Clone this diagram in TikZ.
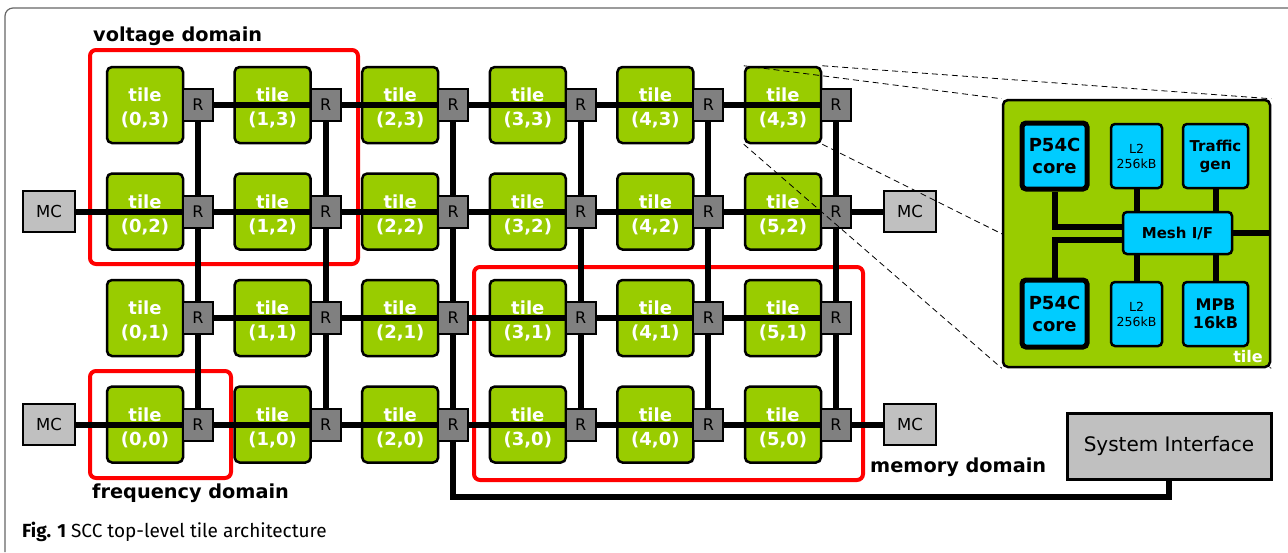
\documentclass[tikz,border=0pt]{standalone}
\usepackage{fontspec}
\setmainfont{DejaVu Sans}
\newfontfamily\capfont{Fira Sans}
\usepackage{tikz}
\usepackage{xcolor}
\usetikzlibrary{positioning}

\definecolor{tilegreen}{RGB}{153,204,0}
\definecolor{rgray}{RGB}{128,128,128}
\definecolor{mcgray}{RGB}{192,192,192}
\definecolor{unitblue}{RGB}{0,204,255}

\pgfdeclarelayer{back}
\pgfdeclarelayer{top}
\pgfsetlayers{back,main,top}

\begin{document}
\begin{tikzpicture}[x=1pt, y=-1pt,
    tile/.style={rectangle, draw, line width=2.5pt, rounded corners=5pt, fill=tilegreen, minimum width=76pt, minimum height=76pt, inner sep=0pt, align=center, text=white, font=\fontsize{18}{24}\selectfont\bfseries},
    router/.style={rectangle, draw, line width=2pt, fill=rgray, minimum width=30pt, minimum height=32pt, inner sep=0pt, font=\fontsize{16}{16}\selectfont},
    mc/.style={rectangle, draw, line width=2.5pt, fill=mcgray, minimum width=52pt, minimum height=41pt, inner sep=0pt, font=\fontsize{16.5}{16.5}\selectfont},
    unit/.style={rectangle, draw, line width=2.5pt, rounded corners=4pt, fill=unitblue, inner sep=0pt, align=center, font=\fontsize{15}{18}\selectfont\bfseries},
    mesh/.style={line width=6pt},
    domainbox/.style={draw=red, line width=4pt, rounded corners=6pt},
    dlabel/.style={anchor=base west, inner sep=0pt, font=\fontsize{19.3}{19.3}\selectfont\bfseries}]

    \useasboundingbox (0,0) rectangle (1288,552);

    % Page frame
    \draw[black!60, line width=1.2pt, rounded corners=8pt] (5,552) -- (5,8) -- (1288,8);

    % Domains and tiles
    \begin{pgfonlayer}{back}
    \draw[domainbox] (90,50) rectangle (358,264);
    \draw[domainbox] (90,371) rectangle (231,478);
    \draw[domainbox] (474,267) rectangle (863,480);
    \foreach \i in {0,...,5} \foreach \j in {0,...,3} {
        \ifnum\i\j=53 \def\lab{4}\else\def\lab{\i}\fi
        \node[tile] (t\i\j) at ({145+127.6*\i},{424.5-106.5*\j}) {\rule{0pt}{20pt}tile\\(\lab,\j)};
    }
    \end{pgfonlayer}

    % Routers
    \foreach \i in {0,...,5} \foreach \j in {0,...,3}
        \node[router] (r\i\j) at ({198+127.6*\i},{424.5-106.5*\j}) {R};

    % Memory controllers
    \node[mc] (mcw2) at (49,211.5) {MC};
    \node[mc] (mcw0) at (49,424.5) {MC};
    \node[mc] (mce2) at (910,211.5) {MC};
    \node[mc] (mce0) at (910,424.5) {MC};

    % System interface
    \node[mc, minimum width=204pt, minimum height=66pt, line width=3pt, font=\fontsize{20}{20}\selectfont] (sysif) at (1169,446) {System Interface};
    \coordinate (bend) at (1169,497);

    % Mesh
    \foreach \j in {0,...,3} {
        \foreach \i/\k in {0/1,1/2,2/3,3/4,4/5}
            \draw[mesh] (r\i\j) -- (r\k\j);
    }
    \foreach \i in {0,...,5} {
        \foreach \j/\k in {0/1,1/2,2/3}
            \draw[mesh] (r\i\j) -- (r\i\k);
    }
    \draw[mesh] (mcw2) -- (r02);
    \draw[mesh] (mcw0) -- (r00);
    \draw[mesh] (r52) -- (mce2);
    \draw[mesh] (r50) -- (mce0);
    \draw[mesh] (r20) |- (bend) -- (sysif);

    % Labels
    \node[dlabel] (vlabel) at (93,41) {voltage domain};
    \node[dlabel] (flabel) at (92,498) {frequency domain};
    \node[dlabel] (mlabel) at (870,472) {memory domain};
    \node[anchor=base west, inner sep=0pt, font=\capfont\fontsize{19}{19}\selectfont] (caption) at (22,537) {\textbf{Fig. 1} SCC top-level tile architecture};

    % Tile detail
    \begin{pgfonlayer}{top}
    \node[rectangle, draw, line width=2.5pt, rounded corners=5pt, fill=tilegreen, minimum width=267pt, minimum height=267pt] (inset) at (1136.5,233.5) {};
    \node[anchor=base east, inner sep=0pt, text=white, font=\fontsize{16}{16}\selectfont\bfseries] (tilename) at (1263,362) {tile};

    \node[unit, line width=5pt, minimum width=65pt, minimum height=66pt, font=\fontsize{18}{22}\selectfont\bfseries] (coretop) at (1054.5,156) {P54C\\core};
    \node[unit, minimum width=51pt, minimum height=64pt, font=\fontsize{12.5}{15}\selectfont] (l2top) at (1136.5,156) {L2\\256kB};
    \node[unit, minimum width=65pt, minimum height=64pt] (traffic) at (1215.5,156) {Traffic\\gen};
    \node[unit, minimum width=109pt, minimum height=42pt] (meshif) at (1177.5,233) {Mesh I/F};
    \node[unit, line width=5pt, minimum width=65pt, minimum height=67pt, font=\fontsize{18}{22}\selectfont\bfseries] (corebot) at (1054.5,313.5) {P54C\\core};
    \node[unit, minimum width=51pt, minimum height=64pt, font=\fontsize{12.5}{15}\selectfont] (l2bot) at (1136.5,314) {L2\\256kB};
    \node[unit, minimum width=65pt, minimum height=64pt, font=\fontsize{16}{18}\selectfont\bfseries] (mpb) at (1215.5,314) {MPB\\16kB};

    \draw[mesh] (l2top.south) -- (l2top.south |- meshif.north);
    \draw[mesh] (traffic.south) -- (traffic.south |- meshif.north);
    \draw[mesh] (l2bot.north) -- (l2bot.north |- meshif.south);
    \draw[mesh] (mpb.north) -- (mpb.north |- meshif.south);
    \draw[mesh] (coretop.south) |- ([yshift=6pt]meshif.west);
    \draw[mesh] (corebot.north) |- ([yshift=-7pt]meshif.west);
    \draw[mesh] (meshif.east) -- (meshif.east -| inset.east);
    \end{pgfonlayer}

    % Zoom lines
    \draw[dash pattern=on 6pt off 4pt, line width=0.8pt] (t53.north west) -- (inset.north west);
    \draw[dash pattern=on 6pt off 4pt, line width=0.8pt] (t53.north east) -- (inset.north east);
    \draw[dash pattern=on 6pt off 4pt, line width=0.8pt] (t53.south west) -- (inset.south west);
    \draw[dash pattern=on 6pt off 4pt, line width=0.8pt] (t53.south east) -- (inset.south east);
\end{tikzpicture}
\end{document}
